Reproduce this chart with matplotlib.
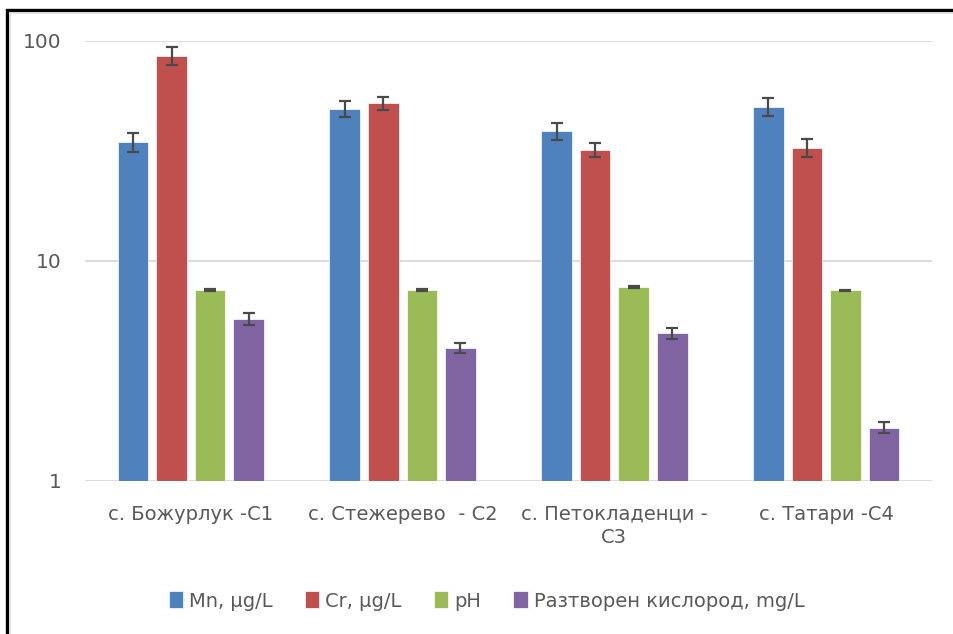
import matplotlib
matplotlib.use("Agg")

import matplotlib.pyplot as plt
from matplotlib.patches import Rectangle
import numpy as np

# ---------------------------------------------------
# DATA
# ---------------------------------------------------

sites = ["с. Божурлук -С1", "с. Стежерево  - С2", "с. Петокладенци -\nС3", "с. Татари -С4"]
series_names = ["Mn, µg/L", "Cr, µg/L", "pH", "Разтворен кислород, mg/L"]

mn = [34.7, 49.2, 39.0, 50.3]
cr = [85.5, 52.1, 32.0, 32.7]
ph = [7.38, 7.40, 7.62, 7.36]
oxygen = [5.45, 4.02, 4.70, 1.75]

mn_err = [3.3, 4.0, 3.4, 4.8]
cr_err = [8.0, 3.7, 2.4, 3.1]
ph_err = [0.06, 0.06, 0.06, 0.06]
oxygen_err = [0.33, 0.22, 0.28, 0.10]

colors = ["#4F81BD", "#C0504D", "#9BBB59", "#8064A2"]

# ---------------------------------------------------
# FIGURE
# ---------------------------------------------------

text_gray = "#595959"

fig = plt.figure(figsize=(9.54, 6.34), dpi=100)
ax = fig.add_axes([85 / 954, 1 - 481 / 634, (932 - 85) / 954, (481 - 41) / 634])

x = np.arange(len(sites))
step = 0.182
width = 0.145
values = [mn, cr, ph, oxygen]
errors = [mn_err, cr_err, ph_err, oxygen_err]

for i, (vals, errs) in enumerate(zip(values, errors)):
    ax.bar(
        x + (i - 1.5) * step, vals, width,
        color=colors[i], edgecolor="white", linewidth=0.5,
        yerr=errs, capsize=4.5,
        error_kw=dict(ecolor="#4a4a4a", elinewidth=1.6, capthick=1.6),
        label=series_names[i], zorder=3,
    )

ax.set_yscale("log")
ax.set_ylim(1, 100)
ax.set_xlim(-0.5, len(sites) - 0.5)
ax.set_yticks([1, 10, 100])
ax.set_yticklabels(["1", "10", "100"])
ax.minorticks_off()
ax.set_xticks(x)
ax.set_xticklabels(sites, fontsize=14, color=text_gray, linespacing=1.3)

ax.tick_params(axis="y", length=0, pad=17, labelsize=14.5, labelcolor=text_gray)
ax.tick_params(axis="x", length=0, pad=17)

for s in ax.spines.values():
    s.set_visible(False)
ax.grid(axis="y", color="#d9d9d9", linewidth=1.3, zorder=0)

# ---------------------------------------------------
# LEGEND
# ---------------------------------------------------

leg = fig.legend(
    loc="center", bbox_to_anchor=(0.51, 0.052), ncol=4, frameon=False,
    handlelength=0.75, handleheight=0.95, handletextpad=0.3, columnspacing=1.65,
    prop={"size": 14},
)
for t in leg.get_texts():
    t.set_color(text_gray)

# ---------------------------------------------------
# FRAME (right and bottom edges fall outside the canvas)
# ---------------------------------------------------

top = 1 - 10 / 634
left = 7 / 954
fig.add_artist(Rectangle((left, -0.2), 1.5, top + 0.2, transform=fig.transFigure,
                         fill=False, edgecolor="black", linewidth=2.4))
fig.add_artist(Rectangle((10 / 954, -0.2), 1.5, 1 - 13 / 634 + 0.2, transform=fig.transFigure,
                         fill=False, edgecolor="#dddddd", linewidth=1.2))

plt.savefig("out.png", dpi=100)
plt.close()
